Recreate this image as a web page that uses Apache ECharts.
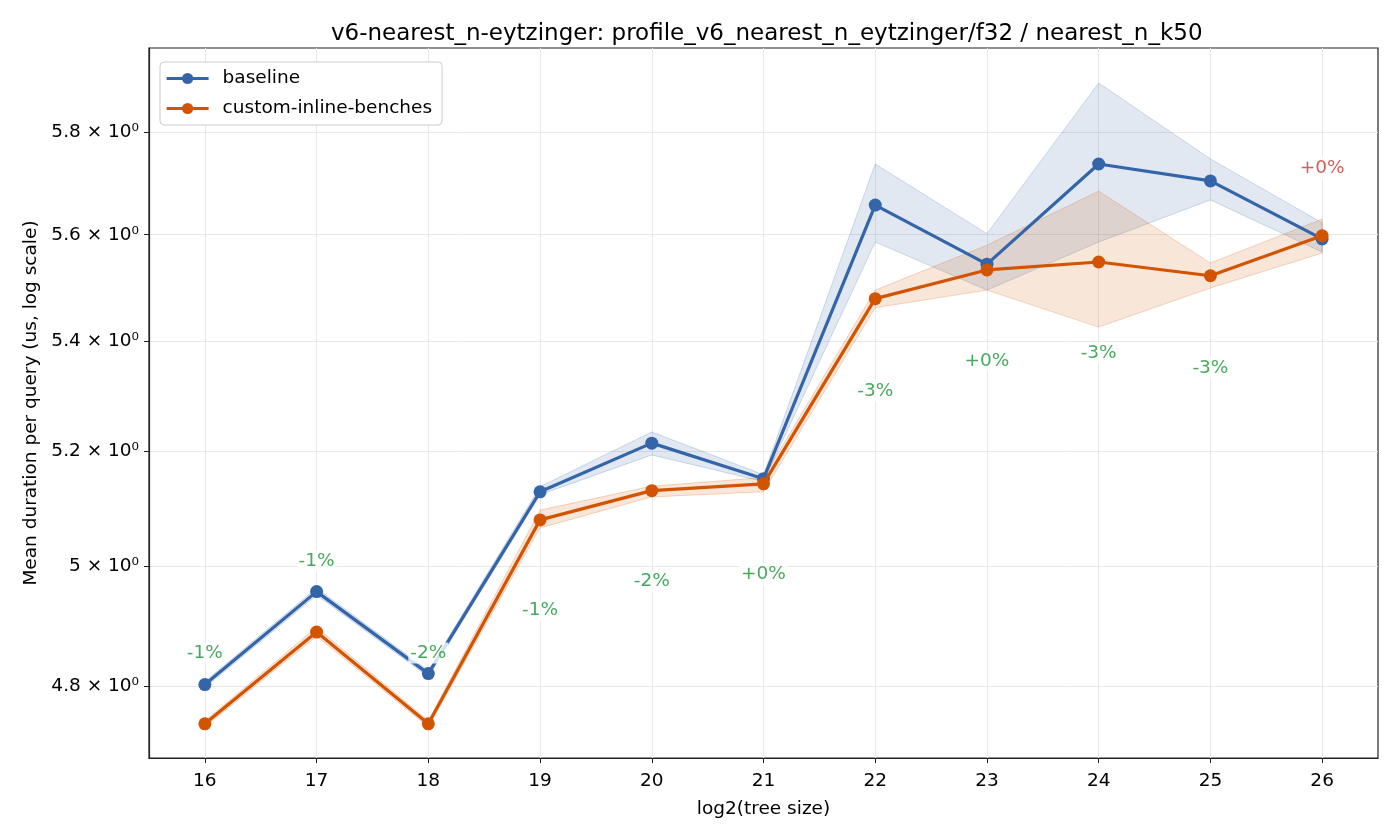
<!DOCTYPE html>
<html>
<head>
<meta charset="utf-8">
<script src="https://cdn.jsdelivr.net/npm/echarts@6/dist/echarts.min.js"></script>
<style>
  html, body { margin: 0; padding: 0; background: #fff; }
  #chart { width: 1400px; height: 840px; }
</style>
</head>
<body>
<div id="chart"></div>
<script>
const FONT = 'DejaVu Sans';

// tree size exponents (log2)
const treeSizes = [16, 17, 18, 19, 20, 21, 22, 23, 24, 25, 26];
const yTicks = [4.8, 5.0, 5.2, 5.4, 5.6, 5.8];

const baselineMean = [4.802, 4.957, 4.820, 5.129, 5.215, 5.152, 5.657, 5.544, 5.737, 5.704, 5.592];
const baselineLow = [4.797, 4.951, 4.815, 5.124, 5.194, 5.147, 5.586, 5.495, 5.586, 5.667, 5.567];
const baselineHigh = [4.807, 4.963, 4.825, 5.138, 5.235, 5.159, 5.737, 5.602, 5.898, 5.747, 5.623];

const customMean = [4.738, 4.889, 4.738, 5.080, 5.131, 5.143, 5.479, 5.533, 5.548, 5.522, 5.598];
const customLow = [4.733, 4.882, 4.733, 5.066, 5.120, 5.129, 5.462, 5.495, 5.426, 5.499, 5.565];
const customHigh = [4.743, 4.897, 4.743, 5.097, 5.139, 5.154, 5.495, 5.580, 5.684, 5.546, 5.630];

const deltaLabels = ['-1%', '-1%', '-2%', '-1%', '-2%', '+0%', '-3%', '+0%', '-3%', '-3%', '+0%'];
const deltaY = [4.854, 5.009, 4.854, 4.925, 4.974, 4.986, 5.309, 5.364, 5.378, 5.351, 5.729];
const deltaWorse = [false, false, false, false, false, false, false, false, false, false, true];

const BLUE = '#3465a8';
const ORANGE = '#d35400';
const GREEN = '#1a9436';
const RED = '#c0392b';
const FS = 18.5;

function bandSeries(name, low, high, fill, edge) {
  return {
    name,
    type: 'custom',
    silent: true,
    z: 1,
    data: treeSizes.map((x, i) => [x, low[i], high[i]]),
    encode: { x: 0, y: [1, 2] },
    renderItem(params, api) {
      if (params.dataIndex !== 0) return null;
      const upper = treeSizes.map((x, i) => api.coord([x, high[i]]));
      const lower = treeSizes.map((x, i) => api.coord([x, low[i]])).reverse();
      return {
        type: 'polygon',
        shape: { points: upper.concat(lower) },
        style: { fill, stroke: edge, lineWidth: 1 },
      };
    },
  };
}

function lineSeries(name, values, color, z) {
  return {
    name,
    type: 'line',
    z,
    data: treeSizes.map((x, i) => [x, values[i]]),
    color,
    symbol: 'circle',
    symbolSize: 13,
    lineStyle: { width: 3.2, color },
    itemStyle: { color },
    emphasis: { disabled: true },
  };
}

const chart = echarts.init(document.getElementById('chart'));

chart.setOption({
  animation: false,
  backgroundColor: '#fff',
  textStyle: { fontFamily: FONT },
  title: {
    text: 'v6-nearest_n-eytzinger: profile_v6_nearest_n_eytzinger/f32 / nearest_n_k50',
    left: 326,
    top: 18,
    textStyle: { fontFamily: FONT, fontSize: 23, fontWeight: 'normal', color: '#000' },
  },
  legend: {
    data: ['baseline', 'custom-inline-benches'],
    orient: 'vertical',
    left: 160,
    top: 62,
    padding: [7, 10, 7, 5],
    itemGap: 11,
    itemWidth: 42,
    itemHeight: 14,
    lineStyle: { width: 3.2 },
    backgroundColor: '#fff',
    borderColor: '#cccccc',
    borderWidth: 1,
    borderRadius: 4,
    textStyle: { fontFamily: FONT, fontSize: FS, color: '#000', padding: [0, 0, 0, 9] },
  },
  grid: {
    left: 149, right: 22, top: 48, bottom: 82,
    show: true, borderColor: '#222', borderWidth: 1.2,
  },
  xAxis: {
    type: 'value',
    min: 15.5,
    max: 26.5,
    name: 'log2(tree size)',
    nameLocation: 'middle',
    nameGap: 42,
    nameTextStyle: { fontFamily: FONT, fontSize: FS, color: '#000' },
    axisLine: { lineStyle: { color: '#222', width: 1.2 } },
    axisTick: { customValues: treeSizes, length: 5, lineStyle: { color: '#222' } },
    axisLabel: { customValues: treeSizes, fontFamily: FONT, fontSize: FS, color: '#000', margin: 14 },
    splitLine: { show: true, lineStyle: { color: '#e8e8e8', width: 1 } },
  },
  yAxis: {
    type: 'log',
    logBase: 10,
    min: 4.683,
    max: 5.969,
    name: 'Mean duration per query (us, log scale)',
    nameLocation: 'middle',
    nameGap: 107,
    nameTextStyle: { fontFamily: FONT, fontSize: FS, color: '#000' },
    axisLine: { show: true, lineStyle: { color: '#222', width: 1.2 } },
    axisTick: { show: true, customValues: yTicks, length: 5, lineStyle: { color: '#222' } },
    axisLabel: {
      customValues: yTicks,
      fontFamily: FONT,
      fontSize: FS,
      color: '#000',
      margin: 10,
      formatter: (v) => `${Math.abs(v - 5) < 1e-6 ? '5' : v.toFixed(1)} × 10⁰`,
    },
    splitLine: { show: true, lineStyle: { color: '#e8e8e8', width: 1 } },
  },
  series: [
    bandSeries('baseline-band', baselineLow, baselineHigh, 'rgba(52,101,168,0.15)', 'rgba(52,101,168,0.22)'),
    bandSeries('custom-band', customLow, customHigh, 'rgba(211,84,0,0.15)', 'rgba(211,84,0,0.22)'),
    lineSeries('baseline', baselineMean, BLUE, 3),
    lineSeries('custom-inline-benches', customMean, ORANGE, 4),
    {
      name: 'delta',
      type: 'scatter',
      z: 5,
      symbolSize: 0,
      silent: true,
      data: treeSizes.map((x, i) => ({
        value: [x, deltaY[i]],
        label: {
          show: true,
          position: 'inside',
          formatter: deltaLabels[i],
          color: deltaWorse[i] ? RED : GREEN,
          fontFamily: FONT,
          fontSize: FS,
          backgroundColor: '#fff',
          padding: [1, 2],
        },
      })),
    },
  ],
});
</script>
</body>
</html>
